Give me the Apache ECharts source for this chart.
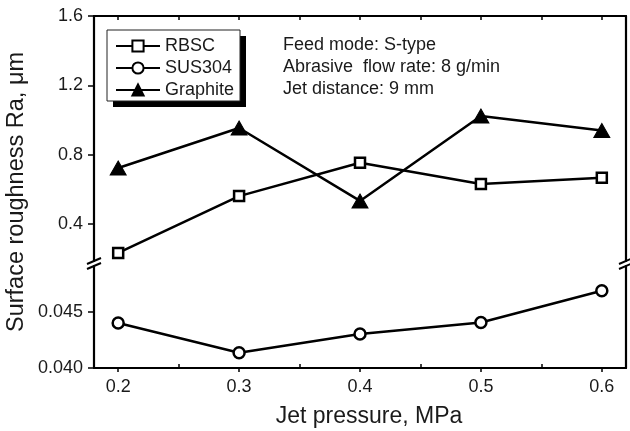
<!DOCTYPE html>
<html>
<head>
<meta charset="utf-8">
<script src="https://cdn.jsdelivr.net/npm/echarts@6/dist/echarts.min.js"></script>
<style>html,body{margin:0;padding:0;background:#fff}#c{width:630px;height:431px}</style>
</head>
<body>
<div id="c"></div>
<script>
// ---- data ----
const pressure = [0.2, 0.3, 0.4, 0.5, 0.6];
const rbsc = [0.233, 0.561, 0.753, 0.631, 0.667];
const sus304 = [0.04402, 0.04136, 0.04304, 0.04406, 0.04689];
const graphite = [0.723, 0.954, 0.533, 1.023, 0.939];
const seriesNames = ['RBSC', 'SUS304', 'Graphite'];
const xTicks = [0.2, 0.3, 0.4, 0.5, 0.6];
const xMinorTicks = [0.25, 0.35, 0.45, 0.55];
const xTopTicks = [0.2, 0.25, 0.3, 0.35, 0.4, 0.45, 0.5, 0.55, 0.6];
const yUpperTicks = [0.4, 0.8, 1.2, 1.6];
const yLowerTicks = [0.040, 0.045];
const noteLines = ['Feed mode: S-type', 'Abrasive  flow rate: 8 g/min', 'Jet distance: 9 mm'];
const xTitle = 'Jet pressure, MPa';
const yTitle = 'Surface roughness Ra, \u03bcm';

// ---- layout ----
const L = 94, R = 4, T = 16, UB = 261, LT = 266, B = 368;
const LEG = { x: 107, y: 30, w: 133, h: 71, sh: 6 };
const FONT = '"Liberation Sans", Arial, sans-serif';
const TXT = '#1a1a1a';

const pairs = (ys) => pressure.map((x, i) => [x, ys[i]]);
const axLine = { show: true, lineStyle: { color: '#000', width: 2.2 } };

const chart = echarts.init(document.getElementById('c'), null, { renderer: 'canvas' });

function slash(cx, cy) {
  return { type: 'line', shape: { x1: cx - 7, y1: cy + 3, x2: cx + 7, y2: cy - 3 },
           style: { stroke: '#000', lineWidth: 2 }, z: 100 };
}

const option = {
  animation: false,
  backgroundColor: '#fff',
  grid: [
    { left: L, right: R, top: T, height: UB - T },
    { left: L, right: R, top: LT, height: B - LT }
  ],
  xAxis: [
    { gridIndex: 0, type: 'value', position: 'top', min: 0.18, max: 0.62,
      axisLine: axLine,
      axisTick: { show: true, inside: true, length: 4, customValues: xTopTicks, lineStyle: { color: '#000', width: 1.5 } },
      axisLabel: { show: false }, splitLine: { show: false } },
    { gridIndex: 1, type: 'value', position: 'bottom', min: 0.18, max: 0.62,
      axisLine: axLine,
      axisTick: { show: true, inside: false, length: 4, customValues: xTicks, lineStyle: { color: '#000', width: 1.5 } },
      axisLabel: { show: true, customValues: xTicks, margin: 10, fontSize: 18, color: TXT, fontFamily: FONT,
                   formatter: (v) => v.toFixed(1) },
      splitLine: { show: false } },
    { gridIndex: 1, type: 'value', position: 'bottom', min: 0.18, max: 0.62,
      axisLine: { show: false },
      axisTick: { show: true, inside: true, length: 4, customValues: xMinorTicks, lineStyle: { color: '#000', width: 1.5 } },
      axisLabel: { show: false }, splitLine: { show: false } }
  ],
  yAxis: [
    { gridIndex: 0, type: 'value', position: 'left', min: 0.1865, max: 1.6,
      axisLine: axLine,
      axisTick: { show: true, inside: false, length: 6, customValues: yUpperTicks, lineStyle: { color: '#000', width: 1.5 } },
      axisLabel: { show: true, customValues: yUpperTicks, margin: 11, fontSize: 18, color: TXT, fontFamily: FONT,
                   formatter: (v) => v.toFixed(1) },
      splitLine: { show: false } },
    { gridIndex: 0, type: 'value', position: 'right', min: 0.1865, max: 1.6,
      axisLine: axLine, axisTick: { show: false }, axisLabel: { show: false }, splitLine: { show: false } },
    { gridIndex: 1, type: 'value', position: 'left', min: 0.040, max: 0.0491,
      axisLine: axLine,
      axisTick: { show: true, inside: false, length: 6, customValues: yLowerTicks, lineStyle: { color: '#000', width: 1.5 } },
      axisLabel: { show: true, customValues: yLowerTicks, margin: 11, fontSize: 18, color: TXT, fontFamily: FONT,
                   formatter: (v) => v.toFixed(3) },
      splitLine: { show: false } },
    { gridIndex: 1, type: 'value', position: 'right', min: 0.040, max: 0.0491,
      axisLine: axLine, axisTick: { show: false }, axisLabel: { show: false }, splitLine: { show: false } }
  ],
  legend: {
    data: seriesNames, orient: 'vertical', left: LEG.x, top: LEG.y,
    padding: [7, 5, 3, 8], itemWidth: 44, itemHeight: 14, itemGap: 4,
    backgroundColor: 'transparent', borderWidth: 0, z: 10,
    textStyle: { fontSize: 18, color: TXT, fontFamily: FONT },
    selectedMode: false
  },
  series: [
    { name: seriesNames[0], type: 'line', xAxisIndex: 0, yAxisIndex: 0, data: pairs(rbsc),
      symbol: 'rect', symbolSize: 10,
      lineStyle: { color: '#000', width: 2.5 },
      itemStyle: { color: '#fff', borderColor: '#000', borderWidth: 2.5 }, z: 3 },
    { name: seriesNames[1], type: 'line', xAxisIndex: 1, yAxisIndex: 2, data: pairs(sus304),
      symbol: 'circle', symbolSize: 11,
      lineStyle: { color: '#000', width: 2.5 },
      itemStyle: { color: '#fff', borderColor: '#000', borderWidth: 2.5 }, z: 3 },
    { name: seriesNames[2], type: 'line', xAxisIndex: 0, yAxisIndex: 0, data: pairs(graphite),
      symbol: 'triangle', symbolSize: [16, 14],
      lineStyle: { color: '#000', width: 2.5 },
      itemStyle: { color: '#000', borderColor: '#000', borderWidth: 1 }, z: 3 }
  ],
  graphic: [
    slash(L, UB), slash(L, LT), slash(630 - R, UB), slash(630 - R, LT),
    { type: 'rect', shape: { x: LEG.x + LEG.sh, y: LEG.y + LEG.sh, width: LEG.w, height: LEG.h },
      style: { fill: '#000' }, z: 8 },
    { type: 'rect', shape: { x: LEG.x, y: LEG.y, width: LEG.w, height: LEG.h },
      style: { fill: '#fff', stroke: '#222', lineWidth: 1 }, z: 9 },
    { type: 'text', left: 283, top: 34, z: 50,
      style: { text: noteLines.join('\n'), font: '18px ' + FONT, lineHeight: 22, fill: TXT } },
    { type: 'text', x: 369, y: 417, z: 50,
      style: { text: xTitle, font: '23px ' + FONT, fill: TXT, align: 'center', verticalAlign: 'middle' } },
    { type: 'text', x: 17, y: 192, rotation: Math.PI / 2, z: 50,
      style: { text: yTitle, font: '23.5px ' + FONT, fill: TXT, align: 'center', verticalAlign: 'middle' } }
  ]
};
chart.setOption(option);
</script>
</body>
</html>
